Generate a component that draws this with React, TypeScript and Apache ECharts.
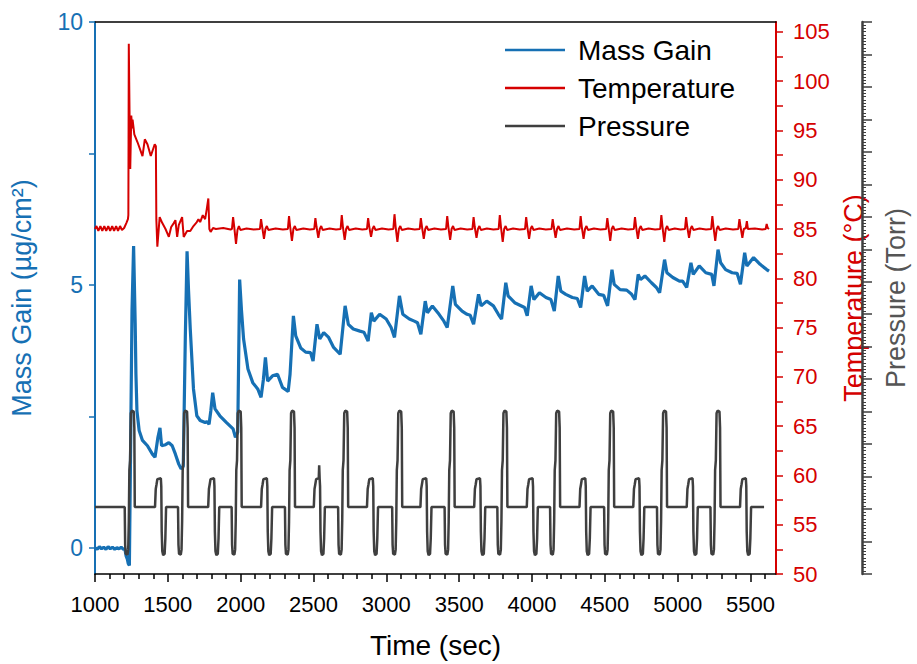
import { useEffect, useRef } from "react";
import * as echarts from "echarts";

// ---------- data ----------
const seriesNames = ["Mass Gain", "Temperature", "Pressure"];

const massGain: [number, number][] = [
  [1000, 0.0], [1015, -0.03], [1030, 0.02], [1045, -0.02], [1060, 0.01], [1075, -0.03], [1090, 0.02],
  [1105, -0.02], [1120, 0.01], [1135, -0.03], [1150, 0.0], [1165, -0.02], [1180, 0.01], [1195, -0.03],
  [1205, -0.02], [1213, -0.15], [1222, -0.22], [1228, -0.3], [1236, -0.34], [1243, 1.5], [1254, 4.5],
  [1265, 5.74], [1276, 4.25], [1281, 3.3], [1288, 2.6], [1303, 2.23], [1326, 2.04], [1360, 1.94],
  [1394, 1.78], [1412, 1.72], [1432, 2.1], [1446, 2.28], [1457, 1.94], [1484, 1.96], [1507, 2.0],
  [1530, 1.94], [1552, 1.78], [1575, 1.59], [1591, 1.5], [1606, 1.55], [1620, 4.0], [1632, 5.64],
  [1642, 4.9], [1654, 4.16], [1676, 3.02], [1699, 2.51], [1722, 2.42], [1756, 2.38], [1769, 2.4],
  [1783, 2.35], [1795, 2.6], [1808, 2.95], [1824, 2.64], [1857, 2.51], [1903, 2.38], [1948, 2.26],
  [1964, 2.1], [1980, 2.2], [1993, 5.1], [2005, 4.54], [2020, 3.97], [2050, 3.4], [2083, 3.14],
  [2117, 3.02], [2140, 2.86], [2156, 3.2], [2170, 3.62], [2185, 3.17], [2219, 3.27], [2253, 3.3],
  [2287, 3.05], [2326, 2.97], [2339, 3.3], [2362, 4.41], [2378, 4.03], [2412, 3.8], [2446, 3.72],
  [2480, 3.71], [2497, 3.55], [2524, 4.25], [2543, 3.97], [2570, 4.09], [2604, 4.0], [2638, 3.81],
  [2683, 3.68], [2717, 4.6], [2739, 4.25], [2773, 4.16], [2819, 4.12], [2846, 4.1], [2875, 3.93],
  [2897, 4.47], [2914, 4.31], [2954, 4.44], [2999, 4.35], [3033, 4.19], [3056, 4.0], [3090, 4.79],
  [3113, 4.44], [3158, 4.35], [3192, 4.31], [3214, 4.28], [3237, 4.06], [3267, 4.69], [3282, 4.47],
  [3316, 4.6], [3362, 4.44], [3395, 4.31], [3418, 4.19], [3456, 4.98], [3474, 4.63], [3520, 4.5],
  [3554, 4.44], [3576, 4.42], [3599, 4.25], [3633, 4.82], [3651, 4.6], [3689, 4.69], [3735, 4.6],
  [3769, 4.44], [3791, 4.35], [3820, 5.04], [3836, 4.79], [3881, 4.66], [3949, 4.57], [3967, 4.41],
  [3994, 4.98], [4013, 4.72], [4051, 4.85], [4096, 4.76], [4130, 4.72], [4153, 4.5], [4180, 5.17],
  [4198, 4.88], [4232, 4.82], [4277, 4.76], [4311, 4.74], [4334, 4.57], [4361, 5.17], [4379, 4.88],
  [4413, 4.98], [4458, 4.82], [4492, 4.8], [4519, 4.6], [4549, 5.29], [4564, 5.01], [4605, 4.91],
  [4650, 4.9], [4684, 4.82], [4707, 4.72], [4729, 5.2], [4745, 5.1], [4775, 5.17], [4820, 5.04],
  [4854, 4.95], [4876, 4.85], [4910, 5.48], [4926, 5.23], [4967, 5.14], [5012, 5.07], [5034, 5.07],
  [5062, 4.95], [5091, 5.42], [5107, 5.2], [5148, 5.36], [5193, 5.23], [5234, 5.2], [5249, 4.98],
  [5277, 5.67], [5295, 5.42], [5329, 5.29], [5374, 5.23], [5408, 5.22], [5431, 5.01], [5460, 5.61],
  [5475, 5.36], [5521, 5.52], [5566, 5.39], [5611, 5.29], [5627, 5.26],
];

const temperature: [number, number][] = [
  [1000, 85.0], [1010, 85.3], [1023, 84.8], [1037, 85.3], [1050, 84.8], [1064, 85.3], [1077, 84.8],
  [1091, 85.3], [1104, 84.8], [1118, 85.3], [1131, 84.8], [1145, 85.3], [1158, 84.8], [1172, 85.3],
  [1185, 84.9], [1200, 85.1], [1215, 85.6], [1226, 86.0], [1229, 86.4], [1232, 103.8], [1237, 97.0],
  [1242, 91.1], [1249, 96.5], [1255, 95.2], [1258, 96.1], [1270, 94.6], [1292, 93.8], [1326, 92.4],
  [1342, 94.1], [1360, 93.6], [1383, 92.4], [1410, 93.6], [1418, 93.4], [1421, 86.0], [1428, 83.2],
  [1444, 86.2], [1462, 85.6], [1484, 85.0], [1507, 84.2], [1523, 85.2], [1541, 85.6], [1552, 85.9],
  [1564, 84.2], [1575, 85.4], [1598, 86.2], [1609, 84.2], [1632, 84.8], [1654, 84.8], [1676, 85.3],
  [1699, 85.7], [1710, 86.0], [1722, 85.7], [1740, 86.4], [1756, 86.0], [1767, 87.0], [1778, 88.1],
  [1785, 85.0], [1794, 84.7], [1810, 85.1], [1830, 85.0], [1880, 85.1], [1930, 84.95],
  [1940, 85.0], [1948, 86.2], [1956, 85.2], [1968, 83.5], [1978, 84.9], [1988, 85.3], [1998, 84.9], [2040, 85.05], [2090, 84.95],
  [2132, 85.0], [2140, 86.0], [2148, 85.2], [2160, 84.0], [2170, 85.0], [2180, 85.3], [2190, 84.9], [2240, 85.05], [2290, 84.95],
  [2324, 85.0], [2332, 86.3], [2340, 85.2], [2352, 83.8], [2362, 85.0], [2372, 85.3], [2382, 84.9], [2430, 85.05], [2475, 84.95],
  [2505, 85.0], [2513, 86.1], [2521, 85.2], [2533, 84.1], [2543, 85.0], [2553, 85.3], [2563, 84.9], [2610, 85.05], [2655, 84.95],
  [2686, 85.0], [2694, 86.4], [2702, 85.2], [2714, 83.9], [2724, 85.0], [2734, 85.3], [2744, 84.9], [2790, 85.05], [2835, 84.95],
  [2867, 85.0], [2875, 86.1], [2883, 85.2], [2895, 84.2], [2905, 85.0], [2915, 85.3], [2925, 84.9], [2970, 85.05], [3015, 84.95],
  [3048, 85.0], [3056, 86.5], [3064, 85.2], [3076, 83.7], [3086, 85.0], [3096, 85.3], [3106, 84.9], [3150, 85.05], [3195, 84.95],
  [3229, 85.0], [3237, 86.1], [3245, 85.2], [3257, 84.0], [3267, 85.0], [3277, 85.3], [3287, 84.9], [3330, 85.05], [3375, 84.95],
  [3410, 85.0], [3418, 86.3], [3426, 85.2], [3438, 83.9], [3448, 85.0], [3458, 85.3], [3468, 84.9], [3510, 85.05], [3555, 84.95],
  [3591, 85.0], [3599, 86.2], [3607, 85.2], [3619, 84.1], [3629, 85.0], [3639, 85.3], [3649, 84.9], [3690, 85.05], [3735, 84.95],
  [3771, 85.0], [3779, 86.4], [3787, 85.2], [3799, 83.7], [3809, 85.0], [3819, 85.3], [3829, 84.9], [3870, 85.05], [3915, 84.95],
  [3952, 85.0], [3960, 86.2], [3968, 85.2], [3980, 84.0], [3990, 85.0], [4000, 85.3], [4010, 84.9], [4050, 85.05], [4095, 84.95],
  [4134, 85.0], [4142, 86.0], [4150, 85.2], [4162, 84.1], [4172, 85.0], [4182, 85.3], [4192, 84.9], [4240, 85.05], [4290, 84.95],
  [4326, 85.0], [4334, 86.3], [4342, 85.2], [4354, 84.0], [4364, 85.0], [4374, 85.3], [4384, 84.9], [4425, 85.05], [4470, 84.95],
  [4509, 85.0], [4517, 86.1], [4525, 85.2], [4537, 83.8], [4547, 85.0], [4557, 85.3], [4567, 84.9], [4615, 85.05], [4660, 84.95],
  [4699, 85.0], [4707, 86.2], [4715, 85.2], [4727, 84.0], [4737, 85.0], [4747, 85.3], [4757, 84.9], [4800, 85.05], [4845, 84.95],
  [4880, 85.0], [4888, 86.4], [4896, 85.2], [4908, 83.7], [4918, 85.0], [4928, 85.3], [4938, 84.9], [4980, 85.05], [5020, 84.95],
  [5050, 85.0], [5058, 86.2], [5066, 85.2], [5078, 84.1], [5088, 85.0], [5098, 85.3], [5108, 84.9], [5150, 85.05], [5195, 84.95],
  [5230, 85.0], [5238, 86.3], [5246, 85.2], [5258, 83.8], [5268, 85.0], [5278, 85.3], [5288, 84.9], [5330, 85.05], [5380, 84.95],
  [5416, 85.0], [5424, 86.0], [5432, 85.2], [5444, 84.1], [5454, 85.0], [5468, 85.1], [5475, 85.8], [5482, 85.0], [5530, 85.05],
  [5580, 84.95], [5604, 85.0], [5611, 85.5], [5618, 85.1], [5627, 85.0],
];

const pressure: [number, number][] = [
  [1000, 2.06],
  [1204, 2.06], [1207, 0.9], [1211, 0.62], [1223, 0.6], [1228, 0.75], [1232, 1.6], [1236, 3.2], [1241, 3.5], [1246, 4.95], [1253, 5.03], [1266, 5.0], [1270, 4.5], [1273, 2.06],
  [1412, 2.06], [1417, 2.62], [1422, 2.75], [1428, 2.92], [1452, 2.95], [1455, 2.7], [1458, 1.3], [1462, 0.7], [1468, 0.58], [1478, 0.62], [1483, 1.1], [1488, 2.06],
  [1570, 2.06], [1573, 0.9], [1577, 0.62], [1589, 0.6], [1594, 0.75], [1598, 1.6], [1602, 3.2], [1607, 3.5], [1612, 4.95], [1619, 5.03], [1632, 5.0], [1636, 4.5], [1639, 2.06],
  [1777, 2.06], [1782, 2.62], [1787, 2.75], [1793, 2.92], [1817, 2.95], [1820, 2.7], [1823, 1.3], [1827, 0.7], [1833, 0.58], [1843, 0.62], [1848, 1.1], [1853, 2.06],
  [1938, 2.06], [1941, 0.9], [1945, 0.62], [1957, 0.6], [1962, 0.75], [1966, 1.6], [1970, 3.2], [1975, 3.5], [1980, 4.95], [1987, 5.03], [2000, 5.0], [2004, 4.5], [2007, 2.06],
  [2140, 2.06], [2145, 2.62], [2150, 2.75], [2156, 2.92], [2180, 2.95], [2183, 2.7], [2186, 1.3], [2190, 0.7], [2196, 0.58], [2206, 0.62], [2211, 1.1], [2216, 2.06],
  [2304, 2.06], [2307, 0.9], [2311, 0.62], [2323, 0.6], [2328, 0.75], [2332, 1.6], [2336, 3.2], [2341, 3.5], [2346, 4.95], [2353, 5.03], [2366, 5.0], [2370, 4.5], [2373, 2.06],
  [2502, 2.06], [2507, 2.62], [2512, 2.75], [2518, 2.92], [2536, 2.95], [2539, 3.35], [2542, 2.95], [2545, 2.7], [2548, 1.3], [2552, 0.7], [2558, 0.58], [2568, 0.62], [2573, 1.1], [2578, 2.06],
  [2669, 2.06], [2672, 0.9], [2676, 0.62], [2688, 0.6], [2693, 0.75], [2697, 1.6], [2701, 3.2], [2706, 3.5], [2711, 4.95], [2718, 5.03], [2731, 5.0], [2735, 4.5], [2738, 2.06],
  [2867, 2.06], [2872, 2.62], [2877, 2.75], [2883, 2.92], [2907, 2.95], [2910, 2.7], [2913, 1.3], [2917, 0.7], [2923, 0.58], [2933, 0.62], [2938, 1.1], [2943, 2.06],
  [3040, 2.06], [3043, 0.9], [3047, 0.62], [3059, 0.6], [3064, 0.75], [3068, 1.6], [3072, 3.2], [3077, 3.5], [3082, 4.95], [3089, 5.03], [3102, 5.0], [3106, 4.5], [3109, 2.06],
  [3234, 2.06], [3239, 2.62], [3244, 2.75], [3250, 2.92], [3274, 2.95], [3277, 2.7], [3280, 1.3], [3284, 0.7], [3290, 0.58], [3300, 0.62], [3305, 1.1], [3310, 2.06],
  [3400, 2.06], [3403, 0.9], [3407, 0.62], [3419, 0.6], [3424, 0.75], [3428, 1.6], [3432, 3.2], [3437, 3.5], [3442, 4.95], [3449, 5.03], [3462, 5.0], [3466, 4.5], [3469, 2.06],
  [3603, 2.06], [3608, 2.62], [3613, 2.75], [3619, 2.92], [3643, 2.95], [3646, 2.7], [3649, 1.3], [3653, 0.7], [3659, 0.58], [3669, 0.62], [3674, 1.1], [3679, 2.06],
  [3762, 2.06], [3765, 0.9], [3769, 0.62], [3781, 0.6], [3786, 0.75], [3790, 1.6], [3794, 3.2], [3799, 3.5], [3804, 4.95], [3811, 5.03], [3824, 5.0], [3828, 4.5], [3831, 2.06],
  [3964, 2.06], [3969, 2.62], [3974, 2.75], [3980, 2.92], [4004, 2.95], [4007, 2.7], [4010, 1.3], [4014, 0.7], [4020, 0.58], [4030, 0.62], [4035, 1.1], [4040, 2.06],
  [4124, 2.06], [4127, 0.9], [4131, 0.62], [4143, 0.6], [4148, 0.75], [4152, 1.6], [4156, 3.2], [4161, 3.5], [4166, 4.95], [4173, 5.03], [4186, 5.0], [4190, 4.5], [4193, 2.06],
  [4326, 2.06], [4331, 2.62], [4336, 2.75], [4342, 2.92], [4366, 2.95], [4369, 2.7], [4372, 1.3], [4376, 0.7], [4382, 0.58], [4392, 0.62], [4397, 1.1], [4402, 2.06],
  [4495, 2.06], [4498, 0.9], [4502, 0.62], [4514, 0.6], [4519, 0.75], [4523, 1.6], [4527, 3.2], [4532, 3.5], [4537, 4.95], [4544, 5.03], [4557, 5.0], [4561, 4.5], [4564, 2.06],
  [4695, 2.06], [4700, 2.62], [4705, 2.75], [4711, 2.92], [4735, 2.95], [4738, 2.7], [4741, 1.3], [4745, 0.7], [4751, 0.58], [4761, 0.62], [4766, 1.1], [4771, 2.06],
  [4858, 2.06], [4861, 0.9], [4865, 0.62], [4877, 0.6], [4882, 0.75], [4886, 1.6], [4890, 3.2], [4895, 3.5], [4900, 4.95], [4907, 5.03], [4920, 5.0], [4924, 4.5], [4927, 2.06],
  [5062, 2.06], [5067, 2.62], [5072, 2.75], [5078, 2.92], [5102, 2.95], [5105, 2.7], [5108, 1.3], [5112, 0.7], [5118, 0.58], [5128, 0.62], [5133, 1.1], [5138, 2.06],
  [5225, 2.06], [5228, 0.9], [5232, 0.62], [5244, 0.6], [5249, 0.75], [5253, 1.6], [5257, 3.2], [5262, 3.5], [5267, 4.95], [5274, 5.03], [5287, 5.0], [5291, 4.5], [5294, 2.06],
  [5428, 2.06], [5433, 2.62], [5438, 2.75], [5444, 2.92], [5468, 2.95], [5471, 2.7], [5474, 1.3], [5478, 0.7], [5484, 0.58], [5494, 0.62], [5499, 1.1], [5504, 2.06],
  [5593, 2.06],
];

// tick positions / labels
const timeLabels = [1000, 1500, 2000, 2500, 3000, 3500, 4000, 4500, 5000, 5500];
const timeMinorTicks = [
  1100, 1200, 1300, 1400, 1600, 1700, 1800, 1900, 2100, 2200, 2300, 2400, 2600, 2700, 2800, 2900,
  3100, 3200, 3300, 3400, 3600, 3700, 3800, 3900, 4100, 4200, 4300, 4400, 4600, 4700, 4800, 4900,
  5100, 5200, 5300, 5400, 5600,
];
const massLabels = [0, 5, 10];
const massTicks = [0, 2.5, 5, 7.5, 10];
const tempLabels = [50, 55, 60, 65, 70, 75, 80, 85, 90, 95, 100, 105];
const tempTicks = [
  50, 52.5, 55, 57.5, 60, 62.5, 65, 67.5, 70, 72.5, 75, 77.5, 80, 82.5, 85, 87.5, 90, 92.5, 95,
  97.5, 100, 102.5, 105,
];

const BLUE = "#1670b4";
const RED = "#d50000";
const GRAY = "#3f3f3f";
const FONT = "'Liberation Sans', Arial, sans-serif";

export default function App() {
  const ref = useRef<HTMLDivElement>(null);
  useEffect(() => {
    if (!ref.current) return;
    const chart = echarts.init(ref.current, null, { renderer: "svg" });
    const xBase = { type: "value", min: 1000, max: 5675, splitLine: { show: false } };
    const plain = (v: number) => String(v);
    chart.setOption({
      animation: false,
      backgroundColor: "#fff",
      textStyle: { fontFamily: FONT },
      grid: { left: 93, right: 134, top: 22, bottom: 87, containLabel: false },
      legend: {
        left: 505,
        top: 35,
        padding: 0,
        orient: "vertical",
        icon: "rect",
        itemWidth: 60,
        itemHeight: 2.5,
        itemGap: 8,
        data: seriesNames,
        textStyle: { fontSize: 28, color: "#000", fontFamily: FONT, lineHeight: 30, padding: [0, 0, 0, 8] },
      },
      xAxis: [
        {
          ...xBase,
          position: "bottom",
          axisLine: { show: true, onZero: false, lineStyle: { color: "#000", width: 1.5 } },
          axisTick: { show: true, customValues: timeLabels, length: 8, lineStyle: { color: "#000", width: 1.5 } },
          axisLabel: { customValues: timeLabels, formatter: plain, color: "#000", fontSize: 22, margin: 19, fontFamily: FONT },
          name: "Time (sec)",
          nameLocation: "middle",
          nameGap: 57,
          nameTextStyle: { fontSize: 28, color: "#000", fontFamily: FONT },
        },
        {
          ...xBase,
          position: "bottom",
          axisLine: { show: false, onZero: false },
          axisTick: { show: true, customValues: timeMinorTicks, length: 5, lineStyle: { color: "#000", width: 1.5 } },
          axisLabel: { show: false },
        },
        {
          ...xBase,
          position: "top",
          axisLine: { show: true, onZero: false, lineStyle: { color: "#000", width: 1.5 } },
          axisTick: { show: false },
          axisLabel: { show: false },
        },
      ],
      yAxis: [
        {
          type: "value",
          min: -0.5,
          max: 10,
          position: "left",
          splitLine: { show: false },
          axisLine: { show: true, onZero: false, lineStyle: { color: BLUE, width: 2 } },
          axisTick: { show: true, customValues: massTicks, length: 6, lineStyle: { color: BLUE, width: 1.5 } },
          axisLabel: { customValues: massLabels, formatter: plain, color: BLUE, fontSize: 23, margin: 12, fontFamily: FONT },
          name: "Mass Gain (µg/cm²)",
          nameLocation: "middle",
          nameGap: 60,
          nameTextStyle: { fontSize: 27, color: BLUE, fontFamily: FONT },
        },
        {
          type: "value",
          min: 50,
          max: 106,
          position: "right",
          splitLine: { show: false },
          axisLine: { show: true, onZero: false, lineStyle: { color: RED, width: 2 } },
          axisTick: { show: true, customValues: tempTicks, length: 7, lineStyle: { color: RED, width: 1.5 } },
          axisLabel: { customValues: tempLabels, formatter: plain, color: RED, fontSize: 22, margin: 17, fontFamily: FONT },
          name: "Temperature (°C)",
          nameLocation: "middle",
          nameGap: 53,
          nameTextStyle: { fontSize: 27, color: RED, fontFamily: FONT },
        },
        {
          type: "value",
          min: 0,
          max: 17,
          interval: 1,
          position: "right",
          offset: 86,
          splitLine: { show: false },
          axisLine: { show: true, onZero: false, lineStyle: { color: GRAY, width: 2.5 } },
          axisTick: { show: true, length: 10, lineStyle: { color: GRAY, width: 1.5 } },
          minorTick: { show: true, splitNumber: 10, length: 4, lineStyle: { color: GRAY, width: 1 } },
          axisLabel: { show: false },
          name: "Pressure (Torr)",
          nameLocation: "middle",
          nameGap: 20,
          nameTextStyle: { fontSize: 27, color: "#555", fontFamily: FONT },
        },
      ],
      series: [
        {
          name: "Mass Gain",
          type: "line",
          xAxisIndex: 0,
          yAxisIndex: 0,
          data: massGain,
          showSymbol: false,
          symbol: "none",
          lineStyle: { color: BLUE, width: 3.2 },
          itemStyle: { color: BLUE },
        },
        {
          name: "Temperature",
          type: "line",
          xAxisIndex: 0,
          yAxisIndex: 1,
          data: temperature,
          showSymbol: false,
          symbol: "none",
          lineStyle: { color: RED, width: 2 },
          itemStyle: { color: RED },
        },
        {
          name: "Pressure",
          type: "line",
          xAxisIndex: 0,
          yAxisIndex: 2,
          data: pressure,
          showSymbol: false,
          symbol: "none",
          lineStyle: { color: GRAY, width: 2.5 },
          itemStyle: { color: GRAY },
        },
      ],
    });
    return () => chart.dispose();
  }, []);
  return (
    <div
      ref={ref}
      style={{ position: "fixed", left: 0, top: 0, width: 917, height: 664, background: "#fff" }}
    />
  );
}
